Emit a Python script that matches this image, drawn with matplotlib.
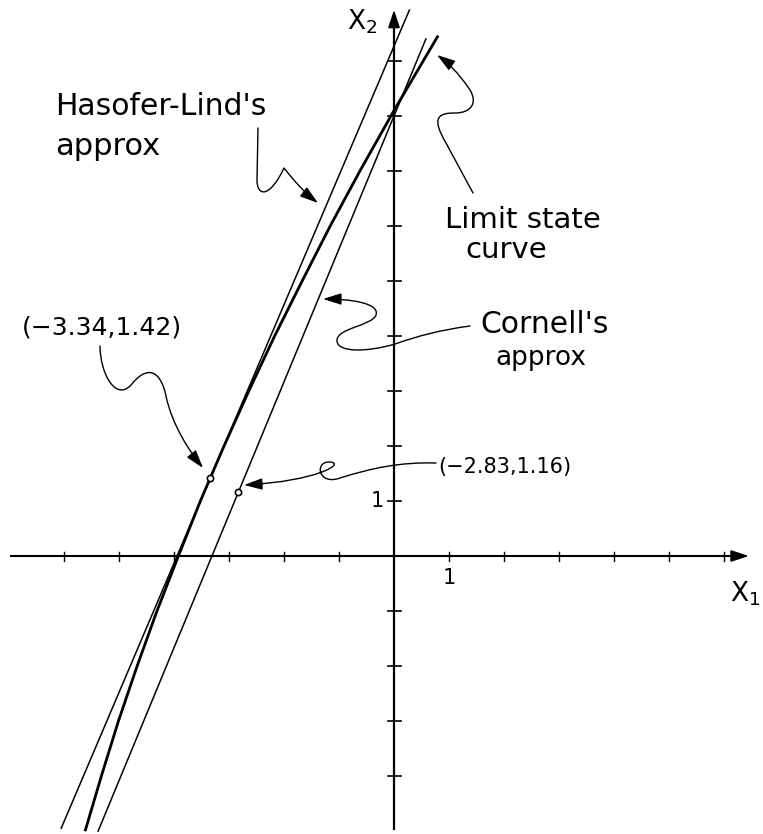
import numpy as np
import matplotlib
matplotlib.use("Agg")
import matplotlib.pyplot as plt
from matplotlib.path import Path
from matplotlib.patches import FancyArrowPatch

# ---- data -----------------------------------------------------------------
# design points (reduced space)
hl_point = (-3.34, 1.42)          # Hasofer-Lind design point
cornell_point = (-2.83, 1.16)     # Cornell (mean-value) checking point

# Hasofer-Lind linearisation: tangent at the design point
hl_slope = 2.35
hl_x_range = (-6.05, 0.28)

# Cornell linearisation: passes through its checking point, meets X2 axis at 8.0
cornell_x2_intercept = 8.0
cornell_x_range = (-5.38, 0.58)

# limit state curve g(X1, X2) = 0
limit_x1 = [0.79, 0.0, -0.62, -1.16, -1.67, -2.17, -2.64, -3.09, -3.34,
            -3.52, -3.92, -4.31, -4.67, -5.01, -5.32, -5.61]
limit_x2 = [9.44, 8.1, 7.0, 6.0, 5.0, 4.0, 3.0, 2.0, 1.42,
            1.0, 0.0, -1.0, -2.0, -3.0, -4.0, -4.98]

x_ticks = [-6, -5, -4, -3, -2, -1, 1, 2, 3, 4, 5, 6]
y_ticks = [-4, -3, -2, -1, 1, 2, 3, 4, 5, 6, 7, 8, 9]

# ---- figure ---------------------------------------------------------------
W, H = 763, 834
fig = plt.figure(figsize=(W / 100, H / 100), dpi=100)
ax = fig.add_axes([0, 0, 1, 1])
ox, oy, unit = 394.0, 556.0, 55.0      # origin location and scale (px)
ax.set_xlim(-ox / unit, (W - ox) / unit)
ax.set_ylim(-(H - oy) / unit, oy / unit)
ax.axis("off")


def dat(px, py):
    """pixel position (y down) -> data coordinates"""
    return ((px - ox) / unit, (oy - py) / unit)


FONT = dict(family="DejaVu Sans", fontweight="normal", color="black")

# axes with arrow heads
ax.plot([-6.98, 6.4], [0, 0], color="black", lw=1.5, solid_capstyle="butt")
ax.plot([0, 0], [-4.98, 9.85], color="black", lw=1.6, solid_capstyle="butt")
ax.annotate("", xy=(6.5, 0), xytext=(6.2, 0),
            arrowprops=dict(arrowstyle="-|>,head_length=0.9,head_width=0.3",
                            color="black", lw=1.2, mutation_scale=12))
ax.annotate("", xy=(0, 9.98), xytext=(0, 9.7),
            arrowprops=dict(arrowstyle="-|>,head_length=0.9,head_width=0.3",
                            color="black", lw=1.2, mutation_scale=12))

# tick marks
tx = 4.5 / unit
for t in x_ticks:
    ax.plot([t, t], [-tx, tx], color="black", lw=1.0)
ty = 6.5 / unit
for t in y_ticks:
    ax.plot([-ty, ty], [t, t], color="black", lw=1.2)

# Hasofer-Lind tangent line
hx = np.array(hl_x_range)
ax.plot(hx, hl_point[1] + hl_slope * (hx - hl_point[0]), color="black", lw=1.1)

# Cornell line
c_slope = (cornell_x2_intercept - cornell_point[1]) / (0 - cornell_point[0])
cx = np.array(cornell_x_range)
ax.plot(cx, cornell_x2_intercept + c_slope * cx, color="black", lw=1.1)

# limit state curve
ax.plot(limit_x1, limit_x2, color="black", lw=2.0, solid_joinstyle="round")

# design points
for p in (hl_point, cornell_point):
    ax.plot(*p, marker="o", ms=4.5, mfc="white", mec="black", mew=1.2, zorder=5)

# ---- labels ---------------------------------------------------------------
def text_px(px, py, s, **kw):
    x, y = dat(px, py)
    opts = dict(FONT)
    opts.update(kw)
    ax.text(x, y, s, **opts)


text_px(55, 115, "Hasofer-Lind's", fontsize=21.5, va="baseline")
text_px(55, 155, "approx", fontsize=22, va="baseline")
text_px(445, 228, "Limit state", fontsize=21, va="baseline")
text_px(465, 258, "curve", fontsize=21, va="baseline")
text_px(480, 333, "Cornell's", fontsize=21.5, va="baseline")
text_px(495, 365, "approx", fontsize=19, va="baseline")
text_px(22, 327, "(\u22123.34,1.42)", fontsize=18, va="center")
text_px(438, 467, "(\u22122.83,1.16)", fontsize=15, va="center")
text_px(362, 22, "X$_2$", fontsize=19, va="center", ha="center")
text_px(745, 594, "X$_1$", fontsize=19, va="center", ha="center")
text_px(377, 501, "1", fontsize=15, va="center", ha="center")
text_px(449, 578, "1", fontsize=15, va="center", ha="center")

# ---- curly leader arrows -----------------------------------------------------
def leader(points_px, codes):
    verts = [dat(*p) for p in points_px]
    path = Path(verts, codes)
    arrow = FancyArrowPatch(path=path,
                            arrowstyle="-|>,head_length=0.7,head_width=0.22",
                            mutation_scale=16, color="black", lw=1.0)
    ax.add_patch(arrow)


M, L, C = Path.MOVETO, Path.LINETO, Path.CURVE4

# Hasofer-Lind's approx
leader([(258, 128), (257, 180), (257, 197), (270, 198), (284, 168),
        (295, 182), (305, 193), (318, 203)],
       [M, L, C, C, C, C, C, C])

# Limit state curve
leader([(473, 193), (446, 143), (430, 116), (440, 113), (455, 113),
        (471, 113), (478, 103), (470, 90), (458, 72), (447, 62), (437, 55)],
       [M, L, C, C, C, C, C, C, C, C, C])

# Cornell's approx
leader([(470, 326), (440, 330), (418, 336), (395, 344),
        (368, 352), (338, 353), (337, 341),
        (336, 328), (372, 326), (376, 315),
        (380, 303), (350, 299), (323, 299)],
       [M, C, C, C, C, C, C, C, C, C, C, C, C])

# (-3.34, 1.42)
leader([(100, 346), (100, 372), (115, 402), (131, 385),
        (146, 366), (160, 368), (166, 396),
        (172, 425), (190, 452), (203, 468)],
       [M, C, C, C, C, C, C, C, C, C])

# (-2.83, 1.16)
leader([(436, 463), (400, 462), (372, 468), (340, 478),
        (318, 486), (314, 461), (330, 462),
        (346, 463), (318, 481), (244, 485)],
       [M, C, C, C, C, C, C, C, C, C])

fig.savefig("out.png", dpi=100, facecolor="white")
